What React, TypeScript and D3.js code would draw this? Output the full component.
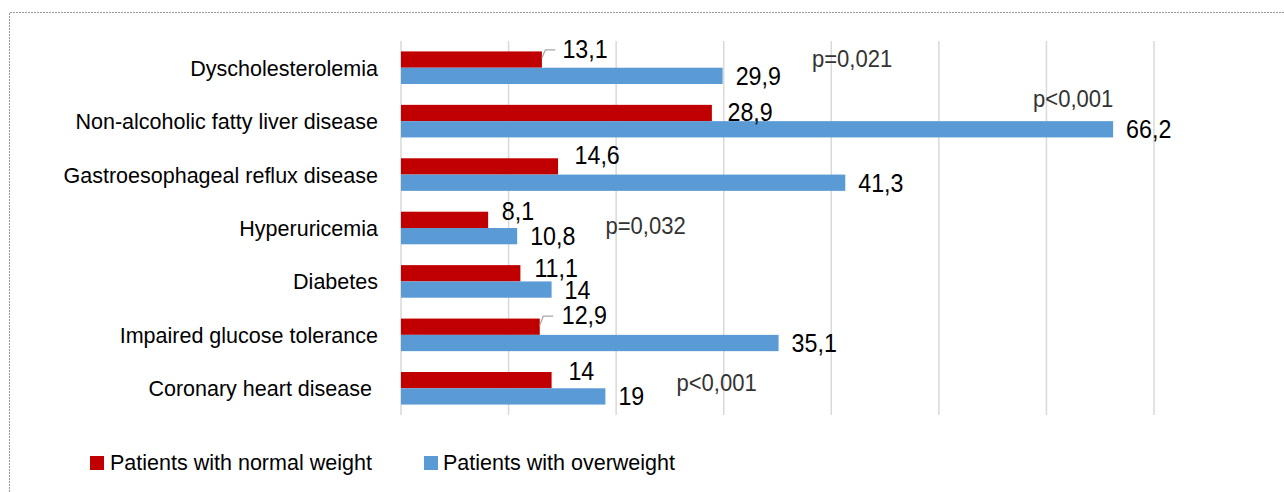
import React from "react";
import * as d3 from "d3";

const categories = [
  "Dyscholesterolemia",
  "Non-alcoholic fatty liver disease",
  "Gastroesophageal reflux disease",
  "Hyperuricemia",
  "Diabetes",
  "Impaired glucose tolerance",
  "Coronary heart disease ",
];
const normalWeight = [13.1, 28.9, 14.6, 8.1, 11.1, 12.9, 14];
const overweight = [29.9, 66.2, 41.3, 10.8, 14, 35.1, 19];
const xTicks = [0, 10, 20, 30, 40, 50, 60, 70];
const seriesNames = ["Patients with normal weight", "Patients with overweight"];
const pTexts = ["p=0,021", "p<0,001", "p=0,032", "p<0,001"];
const pCategory = [0, 1, 3, 6];
const pAt = [38.2, 58.75, 19.0, 25.6];

// label layout nudges (px)
const redDx = [20.5, 15.6, 16.5, 13.7, 14, 22, 16.8];
const redDy = [-10.7, -1, -11, -9, -5.5, -11.5, -9];
const redLeader = [true, false, false, false, false, true, false];
const pDy = [-0.7, -14, 5.5, 2.5];

const RED = "#C00000";
const BLUE = "#5B9BD5";
const FONT = "'Liberation Sans', Arial, sans-serif";
const fmt = (v: number) => String(v).replace(".", ",");

function T(props: {
  x: number;
  y: number;
  size: number;
  sx: number;
  anchor?: string;
  dy?: string;
  fill?: string;
  children: React.ReactNode;
}) {
  const { x, y, size, sx, anchor, dy, fill, children } = props;
  return (
    <text
      transform={`translate(${x},${y}) scale(${sx},1)`}
      dy={dy}
      fontSize={size}
      textAnchor={anchor || "start"}
      fill={fill || "#000"}
      style={{ whiteSpace: "pre" }}
    >
      {children}
    </text>
  );
}

export default function App() {
  const x = d3.scaleLinear().domain([0, 70]).range([401, 1154]);
  const y = d3
    .scaleBand<string>()
    .domain(categories)
    .range([41, 415])
    .paddingInner(0.39)
    .paddingOuter(0.195);
  const bh = y.bandwidth() / 2;

  return (
    <svg
      width={1284}
      height={492}
      style={{ position: "absolute", left: 0, top: 0, background: "#fff" }}
      fontFamily={FONT}
    >
      <path
        d="M9.5,492 V12.5 H1284"
        fill="none"
        stroke="#9a9a9a"
        strokeWidth={1}
        strokeDasharray="2,1"
      />
      {xTicks.map((t) => (
        <line
          key={t}
          x1={x(t)}
          x2={x(t)}
          y1={41}
          y2={415}
          stroke="#d9d9d9"
          strokeWidth={1.5}
        />
      ))}
      {categories.map((c, i) => {
        const y0 = y(c)!;
        const redEnd = x(normalWeight[i]);
        const blueEnd = x(overweight[i]);
        const redC = y0 + bh / 2;
        const blueC = y0 + bh * 1.5;
        const lblC = redC + redDy[i];
        return (
          <g key={c}>
            <T x={378} y={y0 + bh} dy="0.36em" anchor="end" size={22.3} sx={0.965}>
              {c}
            </T>
            <rect x={x(0)} y={y0} width={redEnd - x(0)} height={bh} fill={RED} />
            <rect
              x={x(0)}
              y={y0 + bh}
              width={blueEnd - x(0)}
              height={bh}
              fill={BLUE}
            />
            {redLeader[i] && (
              <polyline
                points={`${redEnd},${redC - 1.5} ${redEnd + 3.5},${lblC + 1} ${redEnd + 13.5},${lblC + 1}`}
                fill="none"
                stroke="#a6a6a6"
                strokeWidth={1.2}
              />
            )}
            <T x={redEnd + redDx[i]} y={lblC} dy="0.36em" size={25} sx={0.93}>
              {fmt(normalWeight[i])}
            </T>
            <T x={blueEnd + 13} y={blueC} dy="0.36em" size={25} sx={0.93}>
              {fmt(overweight[i])}
            </T>
          </g>
        );
      })}
      {pTexts.map((t, k) => {
        const c = categories[pCategory[k]];
        const yc = y(c)! + bh;
        return (
          <T key={k} x={x(pAt[k])} y={yc + pDy[k]} size={24} sx={0.92} fill="#333">
            {t}
          </T>
        );
      })}
      <g>
        <rect x={90} y={456} width={14} height={14} fill={RED} />
        <T x={110} y={470} size={22.3} sx={0.965}>
          {seriesNames[0]}
        </T>
        <rect x={424} y={456} width={14} height={14} fill={BLUE} />
        <T x={443} y={470} size={22.3} sx={0.965}>
          {seriesNames[1]}
        </T>
      </g>
    </svg>
  );
}
